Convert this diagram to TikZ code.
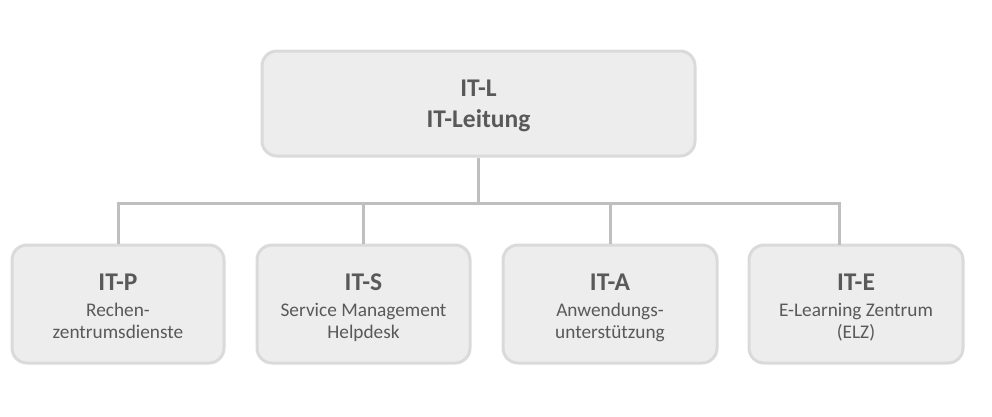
\documentclass[tikz,border=0pt]{standalone}
\usepackage{fontspec}
\setmainfont{Carlito}
\definecolor{boxfill}{HTML}{EDEDED}
\definecolor{boxline}{HTML}{DADADA}
\definecolor{txt}{HTML}{595959}
\definecolor{conn}{HTML}{BFBFBF}
\tikzset{
  orgbox/.style={draw=boxline, fill=boxfill, line width=3pt, rounded corners=15pt, inner sep=0pt},
  titletxt/.style={anchor=base, text=txt, font=\fontsize{25.5}{30}\selectfont\bfseries, inner sep=0pt},
  subtxt/.style={anchor=base, text=txt, font=\fontsize{19.3}{23}\selectfont, inner sep=0pt},
  connline/.style={draw=conn, line width=3pt}
}
\begin{document}
\begin{tikzpicture}[x=1pt,y=-1pt]
\useasboundingbox (0,0) rectangle (992,416);
% boxes
\node[orgbox, minimum width=433, minimum height=105] (l) at (478.5,103.5) {};
\node[orgbox, minimum width=212, minimum height=118] (p) at (118,304) {};
\node[orgbox, minimum width=213, minimum height=118] (s) at (363.5,304) {};
\node[orgbox, minimum width=214, minimum height=118] (a) at (610,304) {};
\node[orgbox, minimum width=214, minimum height=118] (e) at (856,304) {};
% connectors
\coordinate (bus) at (478,203);
\coordinate (etop) at (839,245);
\draw[connline] (l.south -| bus) -- (bus);
\draw[connline] (p.north) -- (p.north |- bus) -- (etop |- bus) -- (etop);
\draw[connline] (s.north) -- (s.north |- bus);
\draw[connline] (a.north) -- (a.north |- bus);
% texts
\node[titletxt] (lt1) at (478.5,96.5) {IT-L};
\node[titletxt] (lt2) at (478.5,127.5) {IT-Leitung};
\node[titletxt] (pt) at (118,290) {IT-P};
\node[subtxt] (p1) at (118,316) {Rechen-};
\node[subtxt] (p2) at (118,338) {zentrumsdienste};
\node[titletxt] (st) at (363.5,290) {IT-S};
\node[subtxt] (s1) at (363.5,316) {Service Management};
\node[subtxt] (s2) at (363.5,338) {Helpdesk};
\node[titletxt] (at) at (610,290) {IT-A};
\node[subtxt] (a1) at (610,316) {Anwendungs-};
\node[subtxt] (a2) at (610,338) {unterstützung};
\node[titletxt] (et) at (856,290) {IT-E};
\node[subtxt] (e1) at (856,316) {E-Learning Zentrum};
\node[subtxt] (e2) at (856,338) {(ELZ)};
\end{tikzpicture}
\end{document}
